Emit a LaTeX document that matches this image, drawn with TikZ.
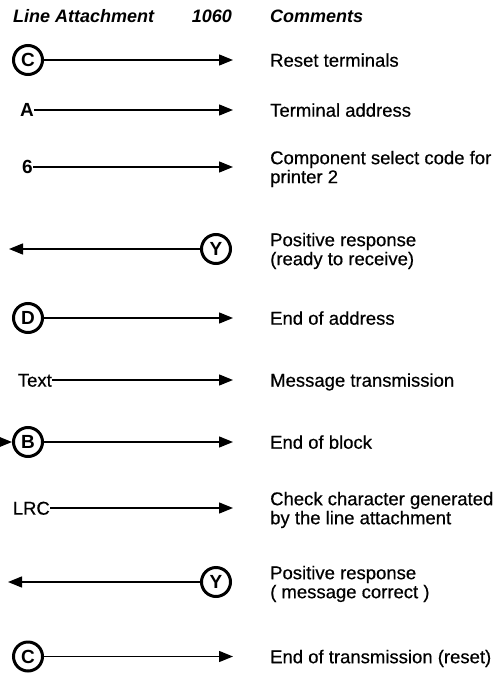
\documentclass[tikz,border=0pt]{standalone}
\usepackage{fontspec}
\setmainfont{Liberation Sans}
\newfontfamily\mediumface[FakeBold=0.5]{Liberation Sans}
\usetikzlibrary{arrows.meta}
\tikzset{
  sig/.style={line width=1.4bp, -{Triangle[length=14bp,width=11bp]}},
  ring/.style={circle, draw, line width=3bp, minimum size=29bp, inner sep=0pt,
               font=\fontsize{19bp}{19bp}\selectfont\bfseries},
  tag/.style={inner sep=0pt, anchor=east, text height=13.3bp, text depth=0pt},
  tagb/.style={tag, font=\fontsize{19bp}{19bp}\selectfont\bfseries},
  tagr/.style={tag, font=\fontsize{18.5bp}{19bp}\selectfont\mediumface},
  note/.style={inner sep=0pt, anchor=base west, font=\fontsize{18.5bp}{19bp}\selectfont\mediumface},
  head/.style={inner sep=0pt, anchor=base west, font=\fontsize{18bp}{19bp}\selectfont\bfseries\itshape},
}
\begin{document}
\begin{tikzpicture}[x=1bp,y=-1bp]
\useasboundingbox (0,0) rectangle (503,673);

% column headings
\node[head] (h1) at (13,23) {Line Attachment};
\node[head, anchor=base east] (h2) at (232,23) {1060};
\node[head] (h3) at (270,23) {Comments};

% 1: reset
\node[ring] (c1) at (28,60) {C};
\coordinate (e1) at (233,60);
\draw[sig] (c1) -- (e1);
\node[note] (n1) at (270,66.7) {Reset terminals};

% 2: terminal address
\node[tagb] (a2) at (34,110) {A};
\coordinate (e2) at (233,110);
\draw[sig] (a2) -- (e2);
\node[note] (n2) at (270,116.7) {Terminal address};

% 3: component select
\node[tagb] (s3) at (33,167) {6};
\coordinate (e3) at (233,167);
\draw[sig] (s3) -- (e3);
\node[note] (n3a) at (270,164.2) {Component select code for};
\node[note] (n3b) at (270,183.2) {printer 2};

% 4: positive response
\node[ring] (y4) at (216,249) {Y};
\coordinate (e4) at (9,249);
\draw[sig] (y4) -- (e4);
\node[note] (n4a) at (270,246.2) {Positive response};
\node[note] (n4b) at (270,265.2) {(ready to receive)};

% 5: end of address
\node[ring] (d5) at (28,318) {D};
\coordinate (e5) at (233,318);
\draw[sig] (d5) -- (e5);
\node[note] (n5) at (270,324.7) {End of address};

% 6: message
\node[tagr] (t6) at (52,380) {Text};
\coordinate (e6) at (233,380);
\draw[sig] (t6) -- (e6);
\node[note] (n6) at (270,386.7) {Message transmission};

% 7: end of block
\coordinate (b7in) at (-2,442);
\node[ring] (b7) at (28,442) {B};
\coordinate (e7) at (233,442);
\draw[sig] (b7in) -- (b7);
\draw[sig] (b7) -- (e7);
\node[note] (n7) at (270,448.7) {End of block};

% 8: check character
\node[tagr] (l8) at (50,508) {LRC};
\coordinate (e8) at (233,508);
\draw[sig] (l8) -- (e8);
\node[note] (n8a) at (270,505.2) {Check character generated};
\node[note] (n8b) at (270,524.2) {by the line attachment};

% 9: positive response
\node[ring] (y9) at (216,582) {Y};
\coordinate (e9) at (8,582);
\draw[sig] (y9) -- (e9);
\node[note] (n9a) at (270,579.2) {Positive response};
\node[note] (n9b) at (270,598.2) {( message correct )};

% 10: end of transmission
\node[ring] (c10) at (28,656.5) {C};
\coordinate (e10) at (233,656.5);
\draw[sig] (c10) -- (e10);
\node[note] (n10) at (270,663.2) {End of transmission (reset)};
\end{tikzpicture}
\end{document}
